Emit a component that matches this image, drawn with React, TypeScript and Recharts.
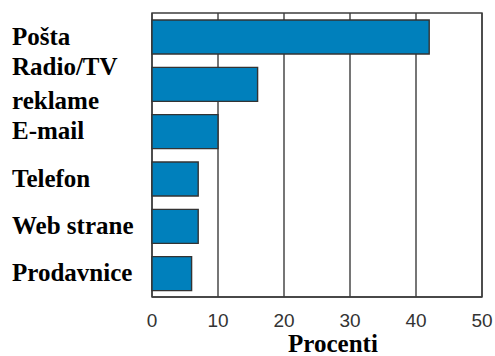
import { BarChart, Bar, XAxis, YAxis, CartesianGrid, ReferenceArea } from "recharts";

const categories = ["Pošta", "Radio/TV reklame", "E-mail", "Telefon", "Web strane", "Prodavnice"];
const percents = [42, 16, 10, 7, 7, 6];
const xTicks = [0, 10, 20, 30, 40, 50];

const data = categories.map((name, i) => ({ name, value: percents[i] }));

const serif = '"Liberation Serif", "Times New Roman", serif';
const sans = '"Liberation Sans", Arial, sans-serif';

// category labels: bold serif, left aligned, split the two-word radio label
function CategoryTick(props: any) {
  const { x, y, payload } = props;
  const label: string = payload.value;
  const left = x - 140;
  const style = { fontFamily: serif, fontWeight: "bold" as const, fontSize: 25, fill: "#000" };
  if (label === "Radio/TV reklame") {
    return (
      <text x={left} y={y} textAnchor="start" style={style}>
        <tspan x={left} dy={-9}>Radio/TV</tspan>
        <tspan x={left} dy={34}>reklame</tspan>
      </text>
    );
  }
  return (
    <text x={left} y={y + 8} textAnchor="start" style={style}>
      {label}
    </text>
  );
}

function AxisTitle(props: any) {
  const { viewBox } = props;
  const cx = viewBox.x + viewBox.width / 2 + 16;
  return (
    <text x={cx} y={352} textAnchor="middle" style={{ fontFamily: serif, fontWeight: "bold", fontSize: 25, fill: "#000" }}>
      Procenti
    </text>
  );
}

export default function App() {
  return (
    <div style={{ position: "absolute", left: 0, top: 0, background: "#fff" }}>
      <BarChart
        width={495}
        height={356}
        data={data}
        layout="vertical"
        margin={{ top: 13, right: 13, bottom: 29, left: 0 }}
        barSize={34}
      >
        <CartesianGrid horizontal={false} stroke="#3c3c3c" strokeWidth={1.4} />
        {/* plot frame */}
        <ReferenceArea x1={0} x2={50} fill="none" fillOpacity={0} stroke="#3c3c3c" strokeWidth={1.4} />
        <XAxis
          type="number"
          domain={[0, 50]}
          ticks={xTicks}
          interval={0}
          height={30}
          tickLine={false}
          tickSize={0}
          tickMargin={17}
          axisLine={{ stroke: "#3c3c3c", strokeWidth: 1.4 }}
          tick={{ fontFamily: sans, fontSize: 19, fill: "#333" }}
          label={<AxisTitle />}
        />
        <YAxis
          type="category"
          dataKey="name"
          width={152}
          axisLine={false}
          tickLine={false}
          tickSize={0}
          tickMargin={0}
          interval={0}
          tick={<CategoryTick />}
        />
        <Bar dataKey="value" fill="#0080bc" stroke="#333" strokeWidth={1.4} isAnimationActive={false} />
      </BarChart>
    </div>
  );
}
